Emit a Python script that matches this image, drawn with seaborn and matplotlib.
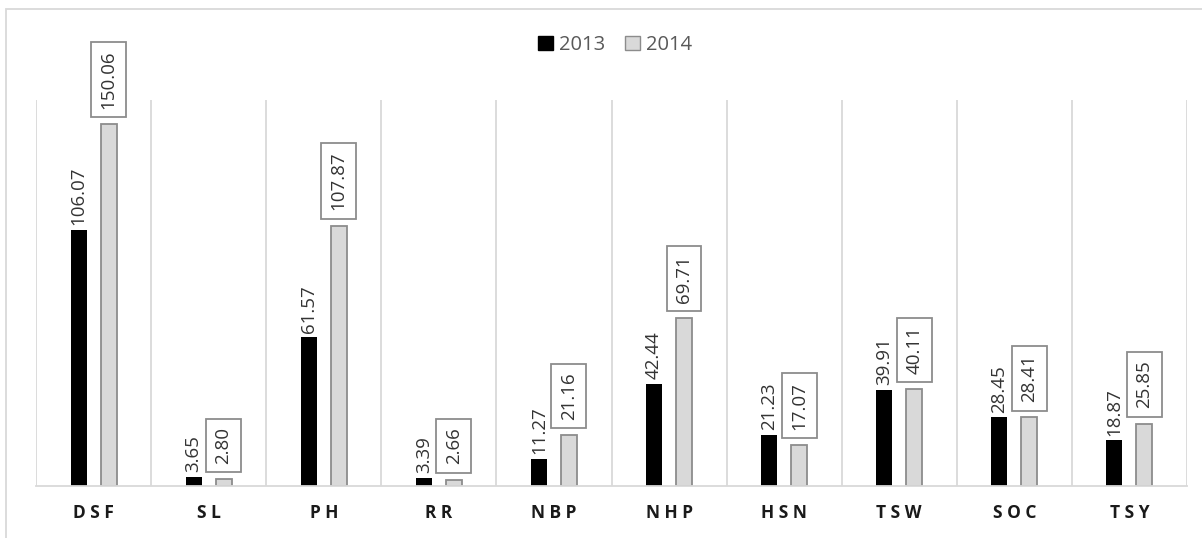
import matplotlib
matplotlib.use("Agg")
import matplotlib.pyplot as plt
import matplotlib.patches as mpatches
import seaborn as sns
import pandas as pd

categories = ["DSF", "SL", "PH", "RR", "NBP", "NHP", "HSN", "TSW", "SOC", "TSY"]
values_2013 = [106.07, 3.65, 61.57, 3.39, 11.27, 42.44, 21.23, 39.91, 28.45, 18.87]
values_2014 = [150.06, 2.80, 107.87, 2.66, 21.16, 69.71, 17.07, 40.11, 28.41, 25.85]
years = ["2013", "2014"]

sns.set_theme(style="white")
plt.rcParams["font.family"] = ["Open Sans", "DejaVu Sans"]

df = pd.DataFrame({
    "cat": categories * 2,
    "val": values_2013 + values_2014,
    "year": [years[0]] * len(categories) + [years[1]] * len(categories),
})

W, H = 1202, 538
fig = plt.figure(figsize=(W / 100, H / 100), dpi=100)
ax = fig.add_axes([36 / W, (H - 486) / H, 1151 / W, 386 / H])

sns.barplot(data=df, x="cat", y="val", hue="year", order=categories, hue_order=years,
            palette={"2013": "black", "2014": "#d9d9d9"}, width=0.52, gap=0.465,
            ax=ax, legend=False, linewidth=0, saturation=1)

# gray bars get a gray outline
for p in ax.containers[1]:
    p.set_edgecolor("#8c8c8c")
    p.set_linewidth(1.3)

ax.set_ylim(0, 160)
ax.set_xlim(-0.5, len(categories) - 0.5)
ax.set_yticks([])
ax.set_xlabel("")
ax.set_ylabel("")
for s in ["top", "left", "right"]:
    ax.spines[s].set_visible(False)
ax.spines["bottom"].set_color("#d9d9d9")
ax.spines["bottom"].set_linewidth(1.3)

# vertical separators between categories
for i in range(len(categories) + 1):
    ax.axvline(i - 0.5, color="#d9d9d9", lw=1.3, zorder=0)

ax.set_xticks(range(len(categories)))
ax.set_xticklabels([" ".join(c) for c in categories], fontsize=12.5,
                   fontweight="bold", color="#1a1a1a")
ax.tick_params(axis="x", length=0, pad=13)

ax.bar_label(ax.containers[0], fmt="%.2f", padding=3.5, rotation=90,
             fontsize=13.5, color="#333333")
ax.bar_label(ax.containers[1], fmt="%.2f", padding=11, rotation=90,
             fontsize=13.5, color="#333333",
             bbox=dict(boxstyle="square,pad=0.45", fc="white", ec="#8c8c8c", lw=1.3))

handles = [mpatches.Patch(facecolor="black", edgecolor="black", label="2013"),
           mpatches.Patch(facecolor="#d9d9d9", edgecolor="#8c8c8c", label="2014")]
leg = fig.legend(handles=handles, loc="center", bbox_to_anchor=(615 / W, 1 - 45 / H),
                 ncol=2, frameon=False, fontsize=14.5, handlelength=0.75, handleheight=0.75,
                 handletextpad=0.3, columnspacing=1.0)
for t in leg.get_texts():
    t.set_color("#595959")

# outer chart frame (partially cropped like the reference)
frame = mpatches.Rectangle((6 / W, -0.2), 1.2, 1 - 9 / H + 0.2, transform=fig.transFigure,
                           fill=False, ec="#d9d9d9", lw=1.3, clip_on=False)
fig.patches.append(frame)

fig.savefig("out.png", dpi=100, facecolor="white")
